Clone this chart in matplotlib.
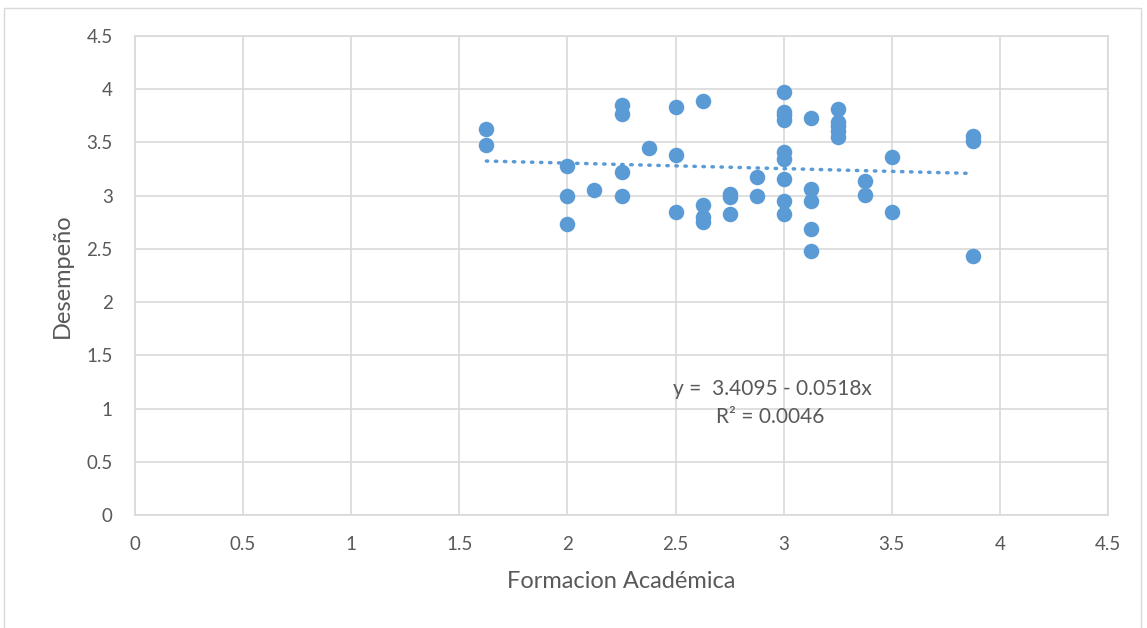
import matplotlib
matplotlib.use("Agg")
import matplotlib.pyplot as plt
from matplotlib.patches import Rectangle
import numpy as np

# Data
formacion = [1.625, 1.625,
             2.0, 2.0, 2.0,
             2.125,
             2.25, 2.25, 2.25, 2.25,
             2.375,
             2.5, 2.5, 2.5,
             2.625, 2.625, 2.625, 2.625,
             2.75, 2.75, 2.75,
             2.875, 2.875,
             3.0, 3.0, 3.0, 3.0, 3.0, 3.0, 3.0, 3.0, 3.0,
             3.125, 3.125, 3.125, 3.125, 3.125,
             3.25, 3.25, 3.25, 3.25, 3.25,
             3.375, 3.375,
             3.5, 3.5,
             3.875, 3.875, 3.875]
desempeno = [3.63, 3.48,
             3.28, 3.00, 2.73,
             3.05,
             3.85, 3.77, 3.22, 3.00,
             3.45,
             3.83, 3.38, 2.85,
             3.89, 2.91, 2.80, 2.75,
             3.02, 2.99, 2.83,
             3.18, 3.00,
             3.97, 3.79, 3.76, 3.71, 3.41, 3.34, 3.16, 2.95, 2.83,
             3.73, 3.06, 2.95, 2.69, 2.48,
             3.81, 3.69, 3.65, 3.61, 3.55,
             3.14, 3.01,
             3.36, 2.85,
             3.56, 3.51, 2.43]
intercept = 3.4095
slope = -0.0518
r2 = 0.0046

x_ticks = [0, 0.5, 1, 1.5, 2, 2.5, 3, 3.5, 4, 4.5]
y_ticks = [0, 0.5, 1, 1.5, 2, 2.5, 3, 3.5, 4, 4.5]

plt.rcParams['font.family'] = ['Lato', 'DejaVu Sans']

fig = plt.figure(figsize=(11.47, 6.28), dpi=100)
ax = fig.add_axes([135/1147, 1 - 515/628, (1108-135)/1147, (515-36)/628])

grid_c = '#D9D9D9'
text_c = '#595959'
blue = '#5B9BD5'

ax.set_xlim(0, 4.5)
ax.set_ylim(0, 4.5)
ax.set_xticks(x_ticks)
ax.set_yticks(y_ticks)
ax.set_xticklabels([f"{t:g}" for t in x_ticks])
ax.set_yticklabels([f"{t:g}" for t in y_ticks])
ax.grid(True, color=grid_c, linewidth=1.2)
ax.set_axisbelow(True)
for s in ax.spines.values():
    s.set_color(grid_c)
    s.set_linewidth(1.2)
ax.tick_params(axis='x', length=0, labelsize=13.5, colors=text_c, pad=15)
ax.tick_params(axis='y', length=0, labelsize=13.5, colors=text_c, pad=16)

ax.scatter(formacion, desempeno, s=125, color=blue, zorder=3, linewidths=0)

xs = np.array([min(formacion), max(formacion)])
ax.plot(xs, intercept + slope * xs, color=blue, linewidth=2.5,
        linestyle=(0, (0.4, 2.2)), dash_capstyle='round', zorder=2)

ax.text(2.95, (515-389.5)/106.4, f"y =  {intercept:.4f} - {abs(slope):.4f}x", ha='center', va='center',
        fontsize=15, color=text_c)
ax.text(2.938, (515-417.5)/106.4, f"R² = {r2:.4f}", ha='center', va='center', fontsize=15, color=text_c)

ax.set_xlabel("Formacion Académica", fontsize=17, color=text_c, labelpad=13)
ax.set_ylabel("Desempeño", fontsize=17, color=text_c, labelpad=10)

fig.patches.append(Rectangle((4/1147, -0.05), (1141-4)/1147, 1.05 - 8/628,
                             transform=fig.transFigure, fill=False,
                             edgecolor='#D9D9D9', linewidth=1))

fig.savefig("out.png", dpi=100)
